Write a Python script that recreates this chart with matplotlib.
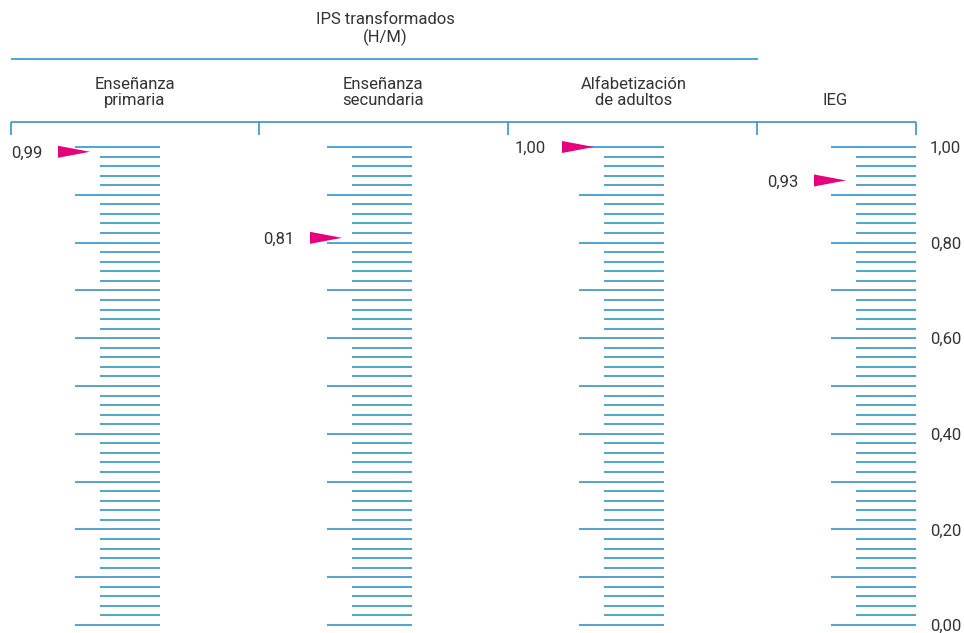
import matplotlib
matplotlib.use("Agg")
import matplotlib.pyplot as plt
import numpy as np
from matplotlib.patches import Polygon

plt.rcParams['font.family'] = ['Roboto', 'DejaVu Sans']
plt.rcParams['font.stretch'] = 'condensed'

# ---- data ----
categories = ["Enseñanza\nprimaria", "Enseñanza\nsecundaria", "Alfabetización\nde adultos", "IEG"]
values = [0.99, 0.81, 1.00, 0.93]
value_labels = ["0,99", "0,81", "1,00", "0,93"]
group_title = "IPS transformados\n(H/M)"
axis_ticks = [0.0, 0.2, 0.4, 0.6, 0.8, 1.0]
axis_tick_labels = ["0,00", "0,20", "0,40", "0,60", "0,80", "1,00"]

# ---- style ----
LINE = "#3497c0"
MAG = "#e6007e"
TXT = "#333333"
FS = 12

W, H = 964, 633
fig = plt.figure(figsize=(W / 100, H / 100), dpi=100)
ax = fig.add_axes([0, 0, 1, 1])
ax.set_axis_off()

# y in value units: value 0 at pixel 625 from top, value 1 at 147
ppu = 625 - 147
ax.set_xlim(0, W)
ax.set_ylim(-(H - 625) / ppu, 1 + 147 / ppu)

def ypix(p):
    return (625 - p) / ppu

col_right = [160, 412, 664, 916]
long_len = 85
short_len = 60
minor = np.round(np.arange(0, 1.0001, 0.02), 2)

for i, xr in enumerate(col_right):
    for v in minor:
        is_long = abs(v * 10 - round(v * 10)) < 1e-6
        xl = xr - (long_len if is_long else short_len)
        ax.hlines(v, xl, xr, color=LINE, lw=1.2)
    # marker
    val = values[i]
    tip = xr - long_len + 15
    base = tip - 32
    half = 6 / ppu
    tri = Polygon([[base, val + half], [base, val - half], [tip, val]],
                  closed=True, color=MAG, lw=0, zorder=3)
    ax.add_patch(tri)
    ax.text(base - 16, val - 1.5 / ppu, value_labels[i], ha="right", va="center",
            fontsize=FS, color=TXT)

# right axis labels
for v, lab in zip(axis_ticks, axis_tick_labels):
    ax.text(930, v - 1.5 / ppu, lab, ha="left", va="center", fontsize=FS, color=TXT)

# header bracket
yb = ypix(122)
ax.hlines(yb, 11, 916, color=LINE, lw=1.2)
for xv in [11, 259, 508, 757, 916]:
    ax.vlines(xv, ypix(135), yb, color=LINE, lw=1.2)

ax.hlines(ypix(59), 11, 758, color=LINE, lw=1.2)
ax.text(385, ypix(29), group_title, ha="center", va="center", fontsize=FS,
        color=TXT, linespacing=1.1)

title_x = [135, 383, 634, 835]
for tx, cat in zip(title_x, categories):
    ax.text(tx, ypix(108), cat, ha="center", va="bottom", fontsize=FS,
            color=TXT, linespacing=1.1)

fig.savefig("out.png", dpi=100)
